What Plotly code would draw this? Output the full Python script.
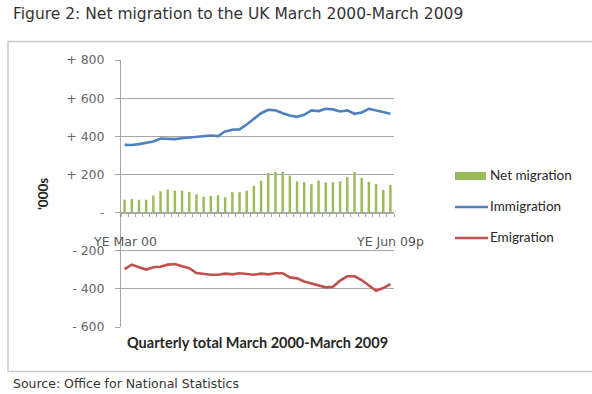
import plotly.graph_objects as go

# Quarterly rolling-year estimates, thousands (YE Mar 00 .. YE Jun 09p)
quarters = list(range(38))
net_migration = [68, 72, 67, 67, 89, 112, 121, 115, 115, 107, 96, 84, 88, 91, 80, 107,
                 107, 115, 140, 168, 208, 214, 214, 194, 164, 159, 149, 168, 158, 159,
                 164, 186, 212, 182, 161, 150, 119, 145]
immigration = [355, 354, 359, 366, 373, 388, 388, 385, 390, 394, 397, 401, 404, 401, 425, 434,
               436, 462, 492, 521, 539, 536, 521, 509, 502, 513, 536, 532, 544, 541,
               530, 536, 518, 525, 544, 536, 530, 518]
emigration = [-296, -273, -287, -299, -287, -284, -273, -270, -282, -292, -317, -322, -326, -326,
              -320, -324, -318, -322, -326, -320, -324, -318, -318, -340, -345, -361, -371,
              -382, -392, -389, -357, -334, -334, -354, -383, -410, -396, -375]
end_labels = ["YE Mar 00", "YE Jun 09p"]
y_ticks = [-600, -400, -200, 0, 200, 400, 600, 800]
y_tick_text = ["- 600", "- 400", "- 200", "-", "+ 200", "+ 400", "+ 600", "+ 800"]

GREEN = "#9bbb59"
BLUE = "#4f81bd"
RED = "#c0504d"
GRID = "#a6a6a6"
VERD = "DejaVu Sans"
CAL = "Lato"

fig = go.Figure()
fig.add_trace(go.Bar(x=quarters, y=net_migration, width=0.34, name="Net migration",
                     marker=dict(color=GREEN, line=dict(width=0)), showlegend=False))
fig.add_trace(go.Scatter(x=quarters, y=immigration, mode="lines", name="Immigration",
                         line=dict(color=BLUE, width=2.6), showlegend=False))
fig.add_trace(go.Scatter(x=quarters, y=emigration, mode="lines", name="Emigration",
                         line=dict(color=RED, width=2.6), showlegend=False))

# horizontal category axis crossing at zero
zero_pos = (0 - y_ticks[0]) / (y_ticks[-1] - y_ticks[0])
fig.update_layout(
    width=592, height=394,
    margin=dict(l=121, r=198, t=60, b=67),
    paper_bgcolor="white", plot_bgcolor="white",
    xaxis=dict(range=[-0.5, 37.5], anchor="free", position=zero_pos,
               showline=True, linecolor=GRID, linewidth=1,
               tickvals=[q - 0.5 for q in quarters] + [37.5], ticktext=[""] * 39,
               ticks="outside", ticklen=3, tickcolor=GRID, showgrid=False, zeroline=False),
    yaxis=dict(range=[-600, 800], tickvals=y_ticks, ticktext=y_tick_text,
               ticks="outside", ticklen=5, tickcolor=GRID, ticklabelstandoff=8,
               showline=True, linecolor=GRID, linewidth=1,
               showgrid=True, gridcolor=GRID, gridwidth=1, zeroline=False,
               tickfont=dict(family=VERD, size=12.5, color="#666666")),
    showlegend=False,
)


# plot-area fractions from pixel positions on the page
def px_x(px):
    return (px - 121) / 273


def px_y(py):
    return (327 - py) / 267


annotations = [
    dict(x=0, y=-150, xref="x", yref="y", text=end_labels[0], showarrow=False,
         font=dict(family=VERD, size=12.5, color="#555555")),
    dict(x=37, y=-150, xref="x", yref="y", text=end_labels[1], showarrow=False,
         font=dict(family=VERD, size=12.5, color="#555555")),
    dict(x=px_x(257), y=px_y(342), xref="paper", yref="paper", yanchor="middle",
         text="<b>Quarterly total March 2000-March 2009</b>", showarrow=False,
         font=dict(family=CAL, size=14.5, color="#262626")),
    dict(x=px_x(43), y=px_y(194), xref="paper", yref="paper", xanchor="center",
         yanchor="middle", text="<b>'000s</b>", textangle=-90, showarrow=False,
         font=dict(family=CAL, size=13.5, color="#262626")),
    dict(x=px_x(11), y=px_y(14), xref="paper", yref="paper", xanchor="left",
         yanchor="middle", text="Figure 2: Net migration to the UK March 2000-March 2009",
         showarrow=False, font=dict(family=VERD, size=15.5, color="#333333")),
    dict(x=px_x(11), y=px_y(383), xref="paper", yref="paper", xanchor="left",
         yanchor="middle", text="Source: Office for National Statistics",
         showarrow=False, font=dict(family=VERD, size=12.5, color="#333333")),
]

shapes = [
    # chart frame
    dict(type="rect", xref="paper", yref="paper", x0=px_x(8), x1=px_x(600),
         y0=px_y(371.5), y1=px_y(41.5), line=dict(color="#c8c8c8", width=1.5),
         fillcolor="rgba(0,0,0,0)", layer="below"),
    # legend keys
    dict(type="rect", xref="paper", yref="paper", x0=px_x(455), x1=px_x(486),
         y0=px_y(180), y1=px_y(172), fillcolor=GREEN, line=dict(width=0)),
    dict(type="line", xref="paper", yref="paper", x0=px_x(455), x1=px_x(488),
         y0=px_y(207), y1=px_y(207), line=dict(color=BLUE, width=2.6)),
    dict(type="line", xref="paper", yref="paper", x0=px_x(455), x1=px_x(488),
         y0=px_y(238), y1=px_y(238), line=dict(color=RED, width=2.6)),
]
for label, py in [("Net migration", 175), ("Immigration", 206), ("Emigration", 237)]:
    annotations.append(dict(x=px_x(488), y=px_y(py), xref="paper", yref="paper",
                            xanchor="left", yanchor="middle", text=label, showarrow=False,
                            font=dict(family=CAL, size=13.5, color="#262626")))

fig.update_layout(annotations=annotations, shapes=shapes)
fig.write_html("out.html")
